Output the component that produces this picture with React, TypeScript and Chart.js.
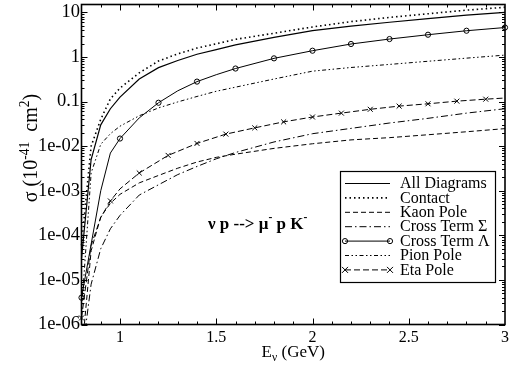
import React, { useEffect, useRef } from "react";
import { Chart, registerables } from "chart.js";

Chart.register(...registerables);

// ---------- data ----------
const energyGrid = [0.8, 0.85, 0.9, 0.95, 1.0, 1.1, 1.2, 1.3, 1.4, 1.5, 1.6, 1.8, 2.0, 2.2, 2.4, 2.6, 2.8, 3.0];
const etaGrid = [0.8, 0.85, 0.9, 0.95, 1.0, 1.1, 1.25, 1.4, 1.55, 1.7, 1.85, 2.0, 2.15, 2.3, 2.45, 2.6, 2.75, 2.9, 3.0];

const allDiagrams = [3e-5, 0.005, 0.03, 0.069, 0.126, 0.32, 0.575, 0.83, 1.15, 1.46, 1.86, 2.75, 3.9, 4.9, 6.0, 7.2, 8.7, 10];
const contact = [6e-5, 0.01, 0.04, 0.115, 0.2, 0.44, 0.81, 1.17, 1.58, 1.97, 2.48, 3.4, 4.7, 6.2, 7.7, 9.3, 11.2, 13];
const kaonPole = [2e-7, 4.5e-5, 2.6e-4, 5.2e-4, 8.3e-4, 1.5e-3, 2.2e-3, 3.2e-3, 4.4e-3, 5.6e-3, 6.6e-3, 8.9e-3, 0.0113, 0.0138, 0.0155, 0.018, 0.021, 0.0247];
const crossSigma = [1.7e-7, 8e-6, 5e-5, 1.4e-4, 2.8e-4, 8e-4, 1.36e-3, 2.3e-3, 3.5e-3, 5.2e-3, 7.2e-3, 0.0124, 0.019, 0.025, 0.033, 0.042, 0.055, 0.069];
const crossLambda = [4e-6, 6.3e-5, 1e-3, 7e-3, 0.0148, 0.043, 0.094, 0.174, 0.28, 0.4, 0.55, 0.93, 1.38, 1.95, 2.52, 3.15, 3.87, 4.57];
const pionPole = [2e-6, 2.5e-3, 0.011, 0.019, 0.028, 0.048, 0.072, 0.098, 0.13, 0.17, 0.21, 0.32, 0.48, 0.58, 0.68, 0.8, 0.94, 1.1];
const etaPole = [1.4e-6, 6e-5, 2.5e-4, 5.9e-4, 1.1e-3, 2.5e-3, 6.2e-3, 0.0115, 0.0186, 0.0257, 0.035, 0.045, 0.055, 0.067, 0.079, 0.089, 0.102, 0.113, 0.12];

const seriesLabels = ["All Diagrams", "Contact", "Kaon Pole", "Cross Term \u03A3", "Cross Term \u039B", "Pion Pole", "Eta Pole"];
const seriesX = [energyGrid, energyGrid, energyGrid, energyGrid, energyGrid, energyGrid, etaGrid];
const seriesY = [allDiagrams, contact, kaonPole, crossSigma, crossLambda, pionPole, etaPole];

const xTickValues = [1, 1.5, 2, 2.5, 3];
const xTickLabels = ["1", "1.5", "2", "2.5", "3"];
const yTickValues = [1e-6, 1e-5, 1e-4, 1e-3, 1e-2, 0.1, 1, 10];
const yTickLabels = ["1e-06", "1e-05", "1e-04", "1e-03", "1e-02", "0.1", "1", "10"];

// ---------- styles ----------
const SERIF = "'Liberation Serif', 'Times New Roman', serif";
type Style = { dash: number[]; width: number; marker: string | null; step: number };
const seriesStyles: Style[] = [
  { dash: [], width: 1.2, marker: null, step: 0 },
  { dash: [1.5, 3], width: 1.6, marker: null, step: 0 },
  { dash: [5, 3], width: 1, marker: null, step: 0 },
  { dash: [7, 3, 1.5, 3], width: 1, marker: null, step: 0 },
  { dash: [], width: 1, marker: "circle", step: 0.2 },
  { dash: [4, 2.5, 1.5, 2.5, 1.5, 2.5], width: 1, marker: null, step: 0 },
  { dash: [6, 3], width: 1, marker: "crossRot", step: 0.15 },
];

function onStep(x: number, step: number) {
  if (!step) return false;
  const k = (x - 0.8) / step;
  return Math.abs(k - Math.round(k)) < 1e-6;
}

function drawMarker(ctx: CanvasRenderingContext2D, kind: string, x: number, y: number) {
  ctx.save();
  ctx.setLineDash([]);
  ctx.lineWidth = 1;
  ctx.strokeStyle = "#000";
  ctx.beginPath();
  if (kind === "circle") {
    ctx.arc(x, y, 2.6, 0, Math.PI * 2);
  } else {
    const r = 3;
    ctx.moveTo(x - r, y - r);
    ctx.lineTo(x + r, y + r);
    ctx.moveTo(x - r, y + r);
    ctx.lineTo(x + r, y - r);
  }
  ctx.stroke();
  ctx.restore();
}

type Seg = { t: string; s: number };
function drawRich(ctx: CanvasRenderingContext2D, segs: Seg[], x: number, y: number, size: number, weight: string, align: "left" | "center") {
  const widths = segs.map((sg) => {
    const fs = sg.s === 0 ? size : size * 0.68;
    ctx.font = `${weight} ${fs}px ${SERIF}`;
    return ctx.measureText(sg.t).width;
  });
  const total = widths.reduce((a, b) => a + b, 0);
  let cx = align === "center" ? x - total / 2 : x;
  segs.forEach((sg, i) => {
    const fs = sg.s === 0 ? size : size * 0.68;
    ctx.font = `${weight} ${fs}px ${SERIF}`;
    const dy = sg.s === 1 ? -size * 0.42 : sg.s === -1 ? size * 0.28 : 0;
    ctx.fillText(sg.t, cx, y + dy);
    cx += widths[i];
  });
}

const decorPlugin = {
  id: "decor",
  afterDraw(chart: any) {
    const { ctx, chartArea: a, scales } = chart;
    const xs = scales.x;
    const ys = scales.y;
    ctx.save();
    ctx.setLineDash([]);
    ctx.strokeStyle = "#000";
    ctx.fillStyle = "#000";

    // inward ticks
    ctx.lineWidth = 1;
    ctx.beginPath();
    for (let i = 1; i < 22; i++) {
      const v = Math.round((0.8 + i * 0.1) * 10) / 10;
      const isMajor = xTickValues.includes(v);
      const len = isMajor ? 6 : 3;
      const px = Math.round(xs.getPixelForValue(v)) + 0.5;
      ctx.moveTo(px, a.bottom);
      ctx.lineTo(px, a.bottom - len);
      ctx.moveTo(px, a.top);
      ctx.lineTo(px, a.top + len);
    }
    for (let e = -6; e <= 1; e++) {
      for (let k = 1; k <= 9; k++) {
        const v = k * Math.pow(10, e);
        if (v > ys.max) continue;
        const len = k === 1 ? 6 : 3;
        const py = Math.round(ys.getPixelForValue(v)) + 0.5;
        ctx.moveTo(a.left, py);
        ctx.lineTo(a.left + len, py);
        ctx.moveTo(a.right, py);
        ctx.lineTo(a.right - len, py);
      }
    }
    ctx.stroke();

    // frame
    ctx.lineWidth = 1.6;
    ctx.strokeRect(a.left, a.top, a.right - a.left, a.bottom - a.top);

    // axis titles
    ctx.textBaseline = "alphabetic";
    drawRich(ctx, [{ t: "E", s: 0 }, { t: "\u03BD", s: -1 }, { t: " (GeV)", s: 0 }], (a.left + a.right) / 2, 356.5, 17, "normal", "center");

    ctx.save();
    ctx.translate(37, 148);
    ctx.rotate(-Math.PI / 2);
    drawRich(ctx, [{ t: "\u03C3 (10", s: 0 }, { t: "-41", s: 1 }, { t: "  cm", s: 0 }, { t: "2", s: 1 }, { t: ")", s: 0 }], 0, 0, 20, "normal", "center");
    ctx.restore();

    // reaction annotation
    drawRich(ctx, [{ t: "\u03BD p --> \u03BC", s: 0 }, { t: "-", s: 1 }, { t: " p K", s: 0 }, { t: "-", s: 1 }], 208, 228.5, 17, "bold", "left");

    // legend
    const bx = 340.5, by = 171.5, bw = 155, bh = 111;
    ctx.fillStyle = "#fff";
    ctx.fillRect(bx, by, bw, bh);
    ctx.lineWidth = 1.2;
    ctx.strokeStyle = "#000";
    ctx.strokeRect(bx, by, bw, bh);
    ctx.fillStyle = "#000";
    seriesLabels.forEach((lab, i) => {
      const st = seriesStyles[i];
      const y = by + 12 + i * 14.4;
      ctx.save();
      ctx.lineWidth = st.width;
      ctx.setLineDash(st.dash);
      ctx.beginPath();
      ctx.moveTo(345, y);
      ctx.lineTo(390, y);
      ctx.stroke();
      ctx.restore();
      if (st.marker) {
        drawMarker(ctx, st.marker, 345, y);
        drawMarker(ctx, st.marker, 390, y);
      }
      ctx.font = `16px ${SERIF}`;
      ctx.textBaseline = "middle";
      ctx.fillText(lab, 400, y + 0.5);
    });
    ctx.restore();
  },
};

export default function App() {
  const canvasRef = useRef<HTMLCanvasElement | null>(null);

  useEffect(() => {
    if (!canvasRef.current) return;
    const datasets = seriesLabels.map((label, i) => {
      const st = seriesStyles[i];
      return {
        label,
        data: seriesX[i].map((x, j) => ({ x, y: seriesY[i][j] })),
        showLine: true,
        borderColor: "#000",
        backgroundColor: "rgba(0,0,0,0)",
        borderWidth: st.width,
        borderDash: st.dash,
        tension: 0,
        clip: { left: 6, right: 6, top: 0, bottom: 0 },
        pointStyle: st.marker || "circle",
        pointRadius: (c: any) => (st.marker && c.raw && onStep(c.raw.x, st.step) ? (st.marker === "circle" ? 2.6 : 3.5) : 0),
        pointBorderColor: "#000",
        pointBackgroundColor: "rgba(0,0,0,0)",
        pointBorderWidth: 1,
        pointHoverRadius: 0,
      };
    });

    const chart = new Chart(canvasRef.current, {
      type: "scatter",
      data: { datasets },
      options: {
        animation: false,
        responsive: true,
        maintainAspectRatio: false,
        events: [],
        layout: { padding: { left: 0, right: 8, top: 3.5, bottom: 0 } },
        plugins: { legend: { display: false }, tooltip: { enabled: false }, title: { display: false } },
        scales: {
          x: {
            type: "linear",
            min: 0.8,
            max: 3,
            grid: { display: false, drawTicks: false },
            border: { display: false },
            afterBuildTicks: (s: any) => {
              s.ticks = xTickValues.map((v) => ({ value: v }));
            },
            afterFit: (s: any) => {
              s.height = 44.5;
              s.paddingLeft = 0;
              s.paddingRight = 0;
            },
            ticks: {
              autoSkip: false,
              maxRotation: 0,
              padding: 4,
              color: "#000",
              font: { family: SERIF, size: 16 },
              callback: (v: any) => {
                const idx = xTickValues.findIndex((t) => Math.abs(t - Number(v)) < 1e-9);
                return idx >= 0 ? xTickLabels[idx] : "";
              },
            },
          },
          y: {
            type: "logarithmic",
            min: 1e-6,
            max: 15,
            grid: { display: false, drawTicks: false },
            border: { display: false },
            afterBuildTicks: (s: any) => {
              s.ticks = yTickValues.map((v) => ({ value: v }));
            },
            afterFit: (s: any) => {
              s.width = 81.5;
              s.paddingTop = 0;
              s.paddingBottom = 0;
            },
            ticks: {
              autoSkip: false,
              padding: 1.5,
              color: "#000",
              font: { family: SERIF, size: 18.5 },
              callback: (v: any) => {
                const idx = yTickValues.findIndex((t) => Math.abs(t - Number(v)) / t < 1e-6);
                return idx >= 0 ? yTickLabels[idx] : "";
              },
            },
          },
        },
      } as any,
      plugins: [decorPlugin],
    });
    return () => chart.destroy();
  }, []);

  return (
    <div style={{ position: "absolute", left: 0, top: 0, width: 513, height: 369, background: "#fff" }}>
      <canvas ref={canvasRef} />
    </div>
  );
}
